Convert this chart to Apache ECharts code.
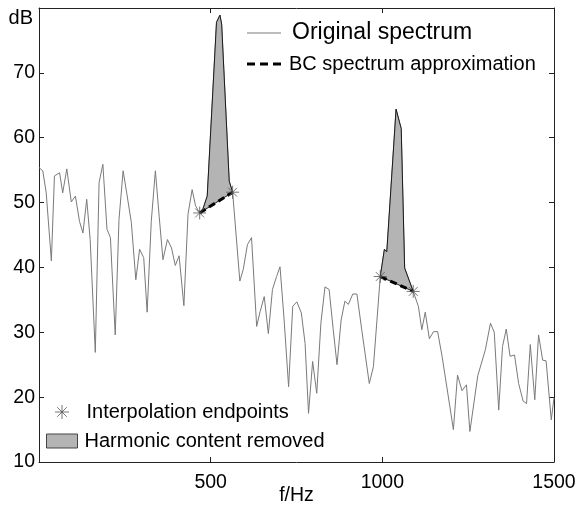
<!DOCTYPE html>
<html>
<head>
<meta charset="utf-8">
<script src="https://cdn.jsdelivr.net/npm/echarts@6/dist/echarts.min.js"></script>
<style>
html,body{margin:0;padding:0;background:#fff;}
#chart{width:576px;height:506px;}
</style>
</head>
<body>
<div id="chart"></div>
<script>
// Original spectrum (frequency in Hz, level in dB)
const freqHz = [0, 11, 21, 36, 45, 60, 69, 81, 94, 106, 118, 128, 139, 149, 164, 175, 186, 198, 208, 222,
  233, 245, 256, 269, 282, 293, 305, 315, 327, 339, 350, 361, 374, 386, 397, 408, 422, 434, 446, 456, 468,
  478, 490, 517, 527, 532, 554, 564,
  585, 595, 607, 619, 634, 644, 656, 668, 680, 692, 702, 714, 727, 739, 751, 764, 775, 785, 797, 809,
  821, 833, 845, 857, 868, 880, 891, 901, 914, 926, 940, 962, 974, 994,
  1006, 1013, 1040, 1055, 1065, 1090,
  1105, 1115, 1125, 1137, 1149, 1161, 1174, 1186, 1207, 1219, 1232, 1245, 1255, 1278, 1300, 1315, 1326,
  1339, 1350, 1361, 1372, 1385, 1397, 1410, 1420, 1431, 1444, 1455, 1467, 1477, 1492, 1500];
const spectrumDb = [55.4, 54.9, 51.5, 41.0, 54.1, 54.6, 51.5, 55.2, 50.1, 51.0, 47.1, 45.3, 50.5, 44.3, 26.9, 53.1, 55.9, 45.9, 44.6, 29.6,
  47.4, 54.9, 51.3, 46.9, 38.1, 42.8, 41.5, 33.1, 47.1, 54.9, 47.9, 41.2, 44.3, 43.0, 40.3, 41.8, 34.1, 48.2, 52.0, 49.5, 48.4,
  49.1, 51.0, 77.8, 78.9, 77.5, 53.3, 51.6,
  37.9, 39.7, 43.5, 44.6, 30.9, 33.2, 35.5, 29.8, 36.6, 38.6, 40.1, 31.9, 21.6, 34.0, 34.7, 33.0, 28.3, 17.5, 25.5, 20.6,
  31.4, 37.0, 36.6, 30.4, 25.0, 31.9, 34.8, 34.3, 35.9, 35.9, 30.4, 22.1, 24.7, 38.6,
  42.8, 42.4, 64.4, 61.4, 39.9, 36.3,
  34.0, 30.4, 33.1, 29.0, 30.1, 30.1, 26.3, 22.2, 15.0, 23.4, 21.0, 21.9, 14.7, 23.3, 27.3, 31.4, 30.0,
  18.0, 27.8, 30.5, 26.3, 26.5, 22.1, 19.4, 19.0, 28.1, 19.6, 29.6, 25.7, 25.6, 16.5, 19.9];

// Interpolation endpoints (pairs: start/end of each harmonic peak)
const endpointHz = [468, 564, 994, 1090];
const endpointDb = [48.4, 51.6, 38.6, 36.3];

// Axis ticks
const xTicks = [0, 1500, 500];   // min, max, interval
const yTicks = [10, 80, 10];

const FONT = 'Liberation Sans';
const spectrum = freqHz.map((f, i) => [f, spectrumDb[i]]);
const endpoints = endpointHz.map((f, i) => [f, endpointDb[i]]);
const asterisk = 'path://M0,5L10,5M5,0L5,10M1.6,1.6L8.4,8.4M8.4,1.6L1.6,8.4';
const solidIcon = 'path://M0,0H34V1.2H0Z';
const dashIcon = 'path://M0,0H8V3H0ZM13,0H21V3H13ZM26,0H34V3H26Z';

const chart = echarts.init(document.getElementById('chart'), null, {renderer: 'canvas'});

const axisLineStyle = {color: '#222', width: 1};
const option = {
  animation: false,
  backgroundColor: '#fff',
  textStyle: {fontFamily: FONT},
  grid: {left: 39, right: 22, top: 8, bottom: 44, containLabel: false, outerBoundsMode: 'none'},
  xAxis: [{
    type: 'value', min: xTicks[0], max: xTicks[1], interval: xTicks[2], position: 'bottom',
    axisLine: {onZero: false, lineStyle: axisLineStyle},
    axisTick: {inside: true, length: 5, lineStyle: axisLineStyle},
    axisLabel: {formatter: v => (v === 0 ? '' : String(v)), fontSize: 19.5, color: '#000', margin: 11, fontFamily: FONT},
    splitLine: {show: false},
    name: 'f/Hz', nameLocation: 'middle', nameGap: 24, nameMoveOverlap: false,
    nameTextStyle: {fontSize: 19.5, color: '#000', fontFamily: FONT}
  }, {
    type: 'value', min: xTicks[0], max: xTicks[1], interval: xTicks[2], position: 'top',
    axisLine: {onZero: false, lineStyle: axisLineStyle},
    axisTick: {inside: true, length: 5, lineStyle: axisLineStyle},
    axisLabel: {show: false}, splitLine: {show: false}
  }],
  yAxis: [{
    type: 'value', min: yTicks[0], max: yTicks[1], interval: yTicks[2], position: 'left',
    axisLine: {onZero: false, lineStyle: axisLineStyle},
    axisTick: {inside: true, length: 5, lineStyle: axisLineStyle},
    axisLabel: {formatter: v => (v === 80 ? '' : String(v)), fontSize: 19.5, color: '#000', margin: 4, fontFamily: FONT},
    splitLine: {show: false},
    name: 'dB', nameLocation: 'end', nameGap: -10, nameMoveOverlap: false,
    nameTextStyle: {fontSize: 20, color: '#000', align: 'right', verticalAlign: 'middle', padding: [0, 6, 0, 0], fontFamily: FONT}
  }, {
    type: 'value', min: yTicks[0], max: yTicks[1], interval: yTicks[2], position: 'right',
    axisLine: {onZero: false, lineStyle: axisLineStyle},
    axisTick: {inside: true, length: 5, lineStyle: axisLineStyle},
    axisLabel: {show: false}, splitLine: {show: false}
  }],
  legend: [{
    orient: 'vertical', left: 247, top: 21, padding: 0, itemWidth: 34, itemHeight: 14, itemGap: 8,
    textStyle: {color: '#000', fontFamily: FONT},
    data: [
      {name: 'Original spectrum', icon: solidIcon, itemStyle: {color: '#7a7a7a'},
        textStyle: {fontSize: 23, lineHeight: 24, padding: [0, 0, 0, 6]}},
      {name: 'BC spectrum approximation', icon: dashIcon, itemStyle: {color: '#000'},
        textStyle: {fontSize: 20, lineHeight: 22, padding: [0, 0, 0, 3]}}
    ]
  }, {
    orient: 'vertical', left: 46, top: 401, padding: 0, itemWidth: 31, itemHeight: 14, itemGap: 7,
    textStyle: {color: '#000', fontFamily: FONT},
    data: [
      {name: 'Interpolation endpoints', icon: asterisk,
        itemStyle: {color: 'rgba(0,0,0,0)', borderColor: '#555', borderWidth: 1},
        textStyle: {fontSize: 20, lineHeight: 22, padding: [0, 0, 0, 4]}},
      {name: 'Harmonic content removed', icon: 'rect',
        itemStyle: {color: '#b4b4b4', borderColor: '#444', borderWidth: 1},
        textStyle: {fontSize: 20, lineHeight: 22, padding: [0, 0, 0, 2]}}
    ]
  }],
  series: [{
    name: 'Original spectrum', type: 'line', data: spectrum, symbol: 'none',
    lineStyle: {color: '#7a7a7a', width: 1}, itemStyle: {color: '#7a7a7a'}, z: 2
  }, {
    name: 'Harmonic content removed', type: 'custom', z: 3,
    itemStyle: {color: '#b4b4b4', borderColor: '#444', borderWidth: 1},
    data: [endpoints[0], endpoints[2]],
    renderItem: function (params, api) {
      const k = params.dataIndex;
      const lo = endpointHz[2 * k], hi = endpointHz[2 * k + 1];
      const pts = [];
      for (let i = 0; i < freqHz.length; i++) {
        if (freqHz[i] >= lo && freqHz[i] <= hi) pts.push(api.coord([freqHz[i], spectrumDb[i]]));
      }
      return {
        type: 'polygon',
        shape: {points: pts},
        style: {fill: '#b4b4b4', stroke: '#1a1a1a', lineWidth: 1}
      };
    }
  }, {
    name: 'BC spectrum approximation', type: 'line', symbol: 'none', z: 4,
    data: [endpoints[0], endpoints[1]],
    lineStyle: {color: '#000', width: 3, type: [7, 4]}, itemStyle: {color: '#000'}
  }, {
    name: 'BC spectrum approximation', type: 'line', symbol: 'none', z: 4,
    data: [endpoints[2], endpoints[3]],
    lineStyle: {color: '#000', width: 3, type: [7, 4]}, itemStyle: {color: '#000'}
  }, {
    name: 'Interpolation endpoints', type: 'scatter', z: 5,
    data: endpoints, symbol: asterisk, symbolSize: 13,
    itemStyle: {color: 'rgba(0,0,0,0)', borderColor: '#555', borderWidth: 1}
  }]
};
chart.setOption(option);
</script>
</body>
</html>
